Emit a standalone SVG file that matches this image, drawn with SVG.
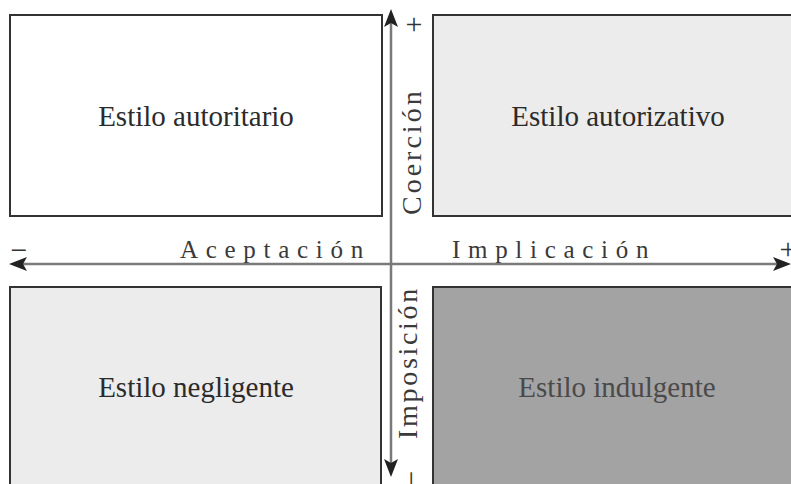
<svg xmlns="http://www.w3.org/2000/svg" width="791" height="484" viewBox="0 0 791 484">
  <style>
    .box { stroke: #333333; stroke-width: 2; }
    .lbl { font-family: "Liberation Serif", "Times New Roman", serif; font-size: 29px; fill: #2b2b2b; text-anchor: middle; }
    .axis { font-family: "Liberation Serif", "Times New Roman", serif; font-size: 25px; fill: #3a3a3a; letter-spacing: 7.7px; }
    .vaxis { font-family: "Liberation Serif", "Times New Roman", serif; font-size: 28px; fill: #3a3a3a; }
    .sign { font-family: "Liberation Serif", "Times New Roman", serif; font-size: 30px; fill: #333333; text-anchor: middle; }
    .shaft { stroke: #7a7a7a; stroke-width: 2.5; fill: none; }
    .head { fill: #222222; }
  </style>
  <rect width="791" height="484" fill="#ffffff"/>

  <g id="autoritario">
    <rect class="box" x="10" y="15" width="372" height="201" fill="#ffffff"/>
    <text class="lbl" x="196" y="126">Estilo autoritario</text>
  </g>
  <g id="autorizativo">
    <rect class="box" x="433" y="15" width="400" height="201" fill="#ececec"/>
    <text class="lbl" x="618" y="126">Estilo autorizativo</text>
  </g>
  <g id="negligente">
    <rect class="box" x="10" y="287" width="371" height="250" fill="#ececec"/>
    <text class="lbl" x="196" y="397">Estilo negligente</text>
  </g>
  <g id="indulgente">
    <rect class="box" x="433" y="287" width="400" height="250" fill="#a3a3a3"/>
    <text class="lbl" x="617" y="397" style="fill:#4a4a4a">Estilo indulgente</text>
  </g>

  <g id="connectors">
    <line class="shaft" x1="391" y1="22" x2="391" y2="464"/>
    <path class="head" d="M391,9 L398,27 L391,23 L384,27 Z"/>
    <path class="head" d="M391,477 L398,459 L391,463 L384,459 Z"/>
    <line class="shaft" x1="22" y1="264" x2="778" y2="264"/>
    <path class="head" d="M9,264 L27,257 L23,264 L27,271 Z"/>
    <path class="head" d="M791,264 L773,257 L777,264 L773,271 Z"/>
  </g>

  <g id="labels">
    <text class="axis" x="180" y="258">Aceptación</text>
    <text class="axis" x="452" y="258">Implicación</text>
    <text class="vaxis" transform="translate(421,215) rotate(-90)" style="letter-spacing:3px">Coerción</text>
    <text class="vaxis" transform="translate(417,439) rotate(-90)" style="letter-spacing:2.7px">Imposición</text>
    <text class="sign" x="414" y="34">+</text>
    <text class="sign" x="19" y="260">−</text>
    <text class="sign" x="788" y="259">+</text>
    <text class="sign" transform="translate(421,479) rotate(-90)" x="0" y="0">−</text>
  </g>
</svg>
